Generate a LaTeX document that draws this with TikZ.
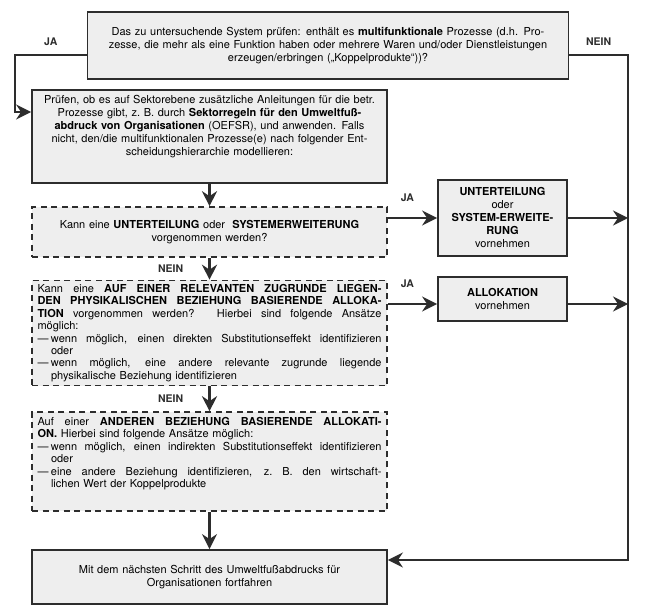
\documentclass[tikz,border=0pt]{standalone}
\usepackage{fontspec}
\setmainfont{TeX Gyre Heros}
\usetikzlibrary{arrows.meta,positioning}
\definecolor{grauRand}{RGB}{45,45,45}
\definecolor{grauFlaeche}{RGB}{238,238,238}
\newcommand{\zeile}[1]{\makebox[344pt][s]{\spaceskip=0pt\xspaceskip=0pt #1}}
\newcommand{\strich}{\makebox[13.5pt][l]{—}}
\tikzset{
  kasten/.style={rectangle, draw=grauRand, line width=1.8pt, fill=grauFlaeche,
                 inner xsep=5.5pt, inner ysep=3pt, minimum width=355pt,
                 font=\fontsize{11}{13}\selectfont},
  frage/.style={kasten, dash pattern=on 6pt off 4.5pt, line width=1.6pt,
                text width=344pt, align=left, font=\fontsize{11}{12.4}\selectfont},
  ergebnis/.style={kasten, minimum width=127pt, text width=118pt, align=center},
  etikett/.style={inner sep=0pt, font=\fontsize{10.5}{12}\selectfont\bfseries},
  pfeil/.style={-{Stealth[length=15pt, width=15pt, inset=5pt]}, line width=2.6pt, grauRand},
}
\begin{document}
\begin{tikzpicture}[x=1pt, y=-1pt]
  \fill[white] (0,0) rectangle (645,612);
  \useasboundingbox (0,0) rectangle (645,612);

  \node[kasten, minimum width=480pt, minimum height=67pt, text width=470pt, align=center]
    (pruefen) at (328,45.5) {Das zu untersuchende System prüfen: enthält es \textbf{multifunktionale} Prozesse (d.h. Pro-\\
    zesse, die mehr als eine Funktion haben oder mehrere Waren und/oder Dienstleistungen\\
    erzeugen/erbringen („Koppelprodukte“))?};
  \node[kasten, minimum height=93pt, text width=344pt, align=center]
    (anleitung) at (209.5,136.5) {Prüfen, ob es auf Sektorebene zusätzliche Anleitungen für die betr.\\
    Prozesse gibt, z.\ B. durch \textbf{Sektorregeln für den Umweltfuß-}\\
    \textbf{abdruck von Organisationen} (OEFSR), und anwenden. Falls\\
    nicht, den/die multifunktionalen Prozesse(e) nach folgender Ent-\\
    scheidungshierarchie modellieren:\\[9pt]\mbox{}};
  \node[frage, minimum height=50pt, align=center]
    (teilungfrage) at (209.5,232) {Kann eine \textbf{UNTERTEILUNG} oder\ \ \textbf{SYSTEMERWEITERUNG}\\
    vorgenommen werden?};
  \node[ergebnis, minimum height=76pt]
    (teilung) at (502.5,218) {\textbf{UNTERTEILUNG}\\ oder\\ \textbf{SYSTEM-ERWEITE-}\\ \textbf{RUNG}\\ vornehmen};
  \node[frage, minimum height=105pt]
    (physfrage) at (209.5,333) {\zeile{Kann eine \textbf{AUF EINER RELEVANTEN ZUGRUNDE LIEGEN-}}\\
    \zeile{\textbf{DEN PHYSIKALISCHEN BEZIEHUNG BASIERENDE ALLOKA-}}\\
    \zeile{\textbf{TION} vorgenommen werden? Hierbei sind folgende Ansätze}\\
    möglich:\\
    \zeile{\strich wenn möglich, einen direkten Substitutionseffekt identifizieren}\\
    \hspace*{13.5pt}oder\\
    \zeile{\strich wenn möglich, eine andere relevante zugrunde liegende}\\
    \hspace*{13.5pt}physikalische Beziehung identifizieren};
  \node[ergebnis, minimum height=44pt]
    (allokation) at (502.5,299) {\textbf{ALLOKATION}\\ vornehmen};
  \node[frage, minimum height=99pt]
    (anderefrage) at (209.5,461.5) {\zeile{Auf einer \textbf{ANDEREN BEZIEHUNG BASIERENDE ALLOKATI-}}\\
    \textbf{ON.} Hierbei sind folgende Ansätze möglich:\\
    \zeile{\strich wenn möglich, einen indirekten Substitutionseffekt identifizieren}\\
    \hspace*{13.5pt}oder\\
    \zeile{\strich eine andere Beziehung identifizieren, z.\ B.\ den wirtschaft-}\\
    \hspace*{13.5pt}lichen Wert der Koppelprodukte\\[5.6pt]\mbox{}};
  \node[kasten, minimum height=54pt, text width=344pt, align=center]
    (weiter) at (209.5,577) {Mit dem nächsten Schritt des Umweltfußabdrucks für\\
    Organisationen fortfahren};

  \coordinate (linksoben) at (15,55);
  \coordinate (links) at (15,112);
  \coordinate (rechtsoben) at (628,55);
  \coordinate (rechtsunten) at (628,560);
  \coordinate (jaB) at (allokation.west |- 0,304);

  \draw[pfeil] (pruefen.west |- linksoben) -- node[etikett, above=8pt] {JA} (linksoben)
    -- (links) -- (anleitung.west |- links);
  \draw[pfeil] (pruefen.east |- rechtsoben) -- node[etikett, above=8pt] {NEIN} (rechtsoben)
    -- (rechtsunten) -- (weiter.east |- rechtsunten);
  \draw[pfeil] (anleitung.south) -- (teilungfrage.north);
  \draw[pfeil] (teilungfrage.east |- teilung.west) -- node[etikett, pos=0.4, above=15pt] {JA} (teilung.west);
  \draw[pfeil] (teilung.east) -- (teilung.east -| rechtsunten);
  \draw[pfeil] (teilungfrage.south) -- node[etikett, left=25pt] {NEIN} (physfrage.north);
  \draw[pfeil] (physfrage.east |- jaB) -- node[etikett, pos=0.4, above=15pt] {JA} (jaB);
  \draw[pfeil] (jaB -| allokation.east) -- (jaB -| rechtsunten);
  \draw[pfeil] (physfrage.south) -- node[etikett, left=25pt] {NEIN} (anderefrage.north);
  \draw[pfeil] (anderefrage.south) -- (weiter.north);
\end{tikzpicture}
\end{document}
